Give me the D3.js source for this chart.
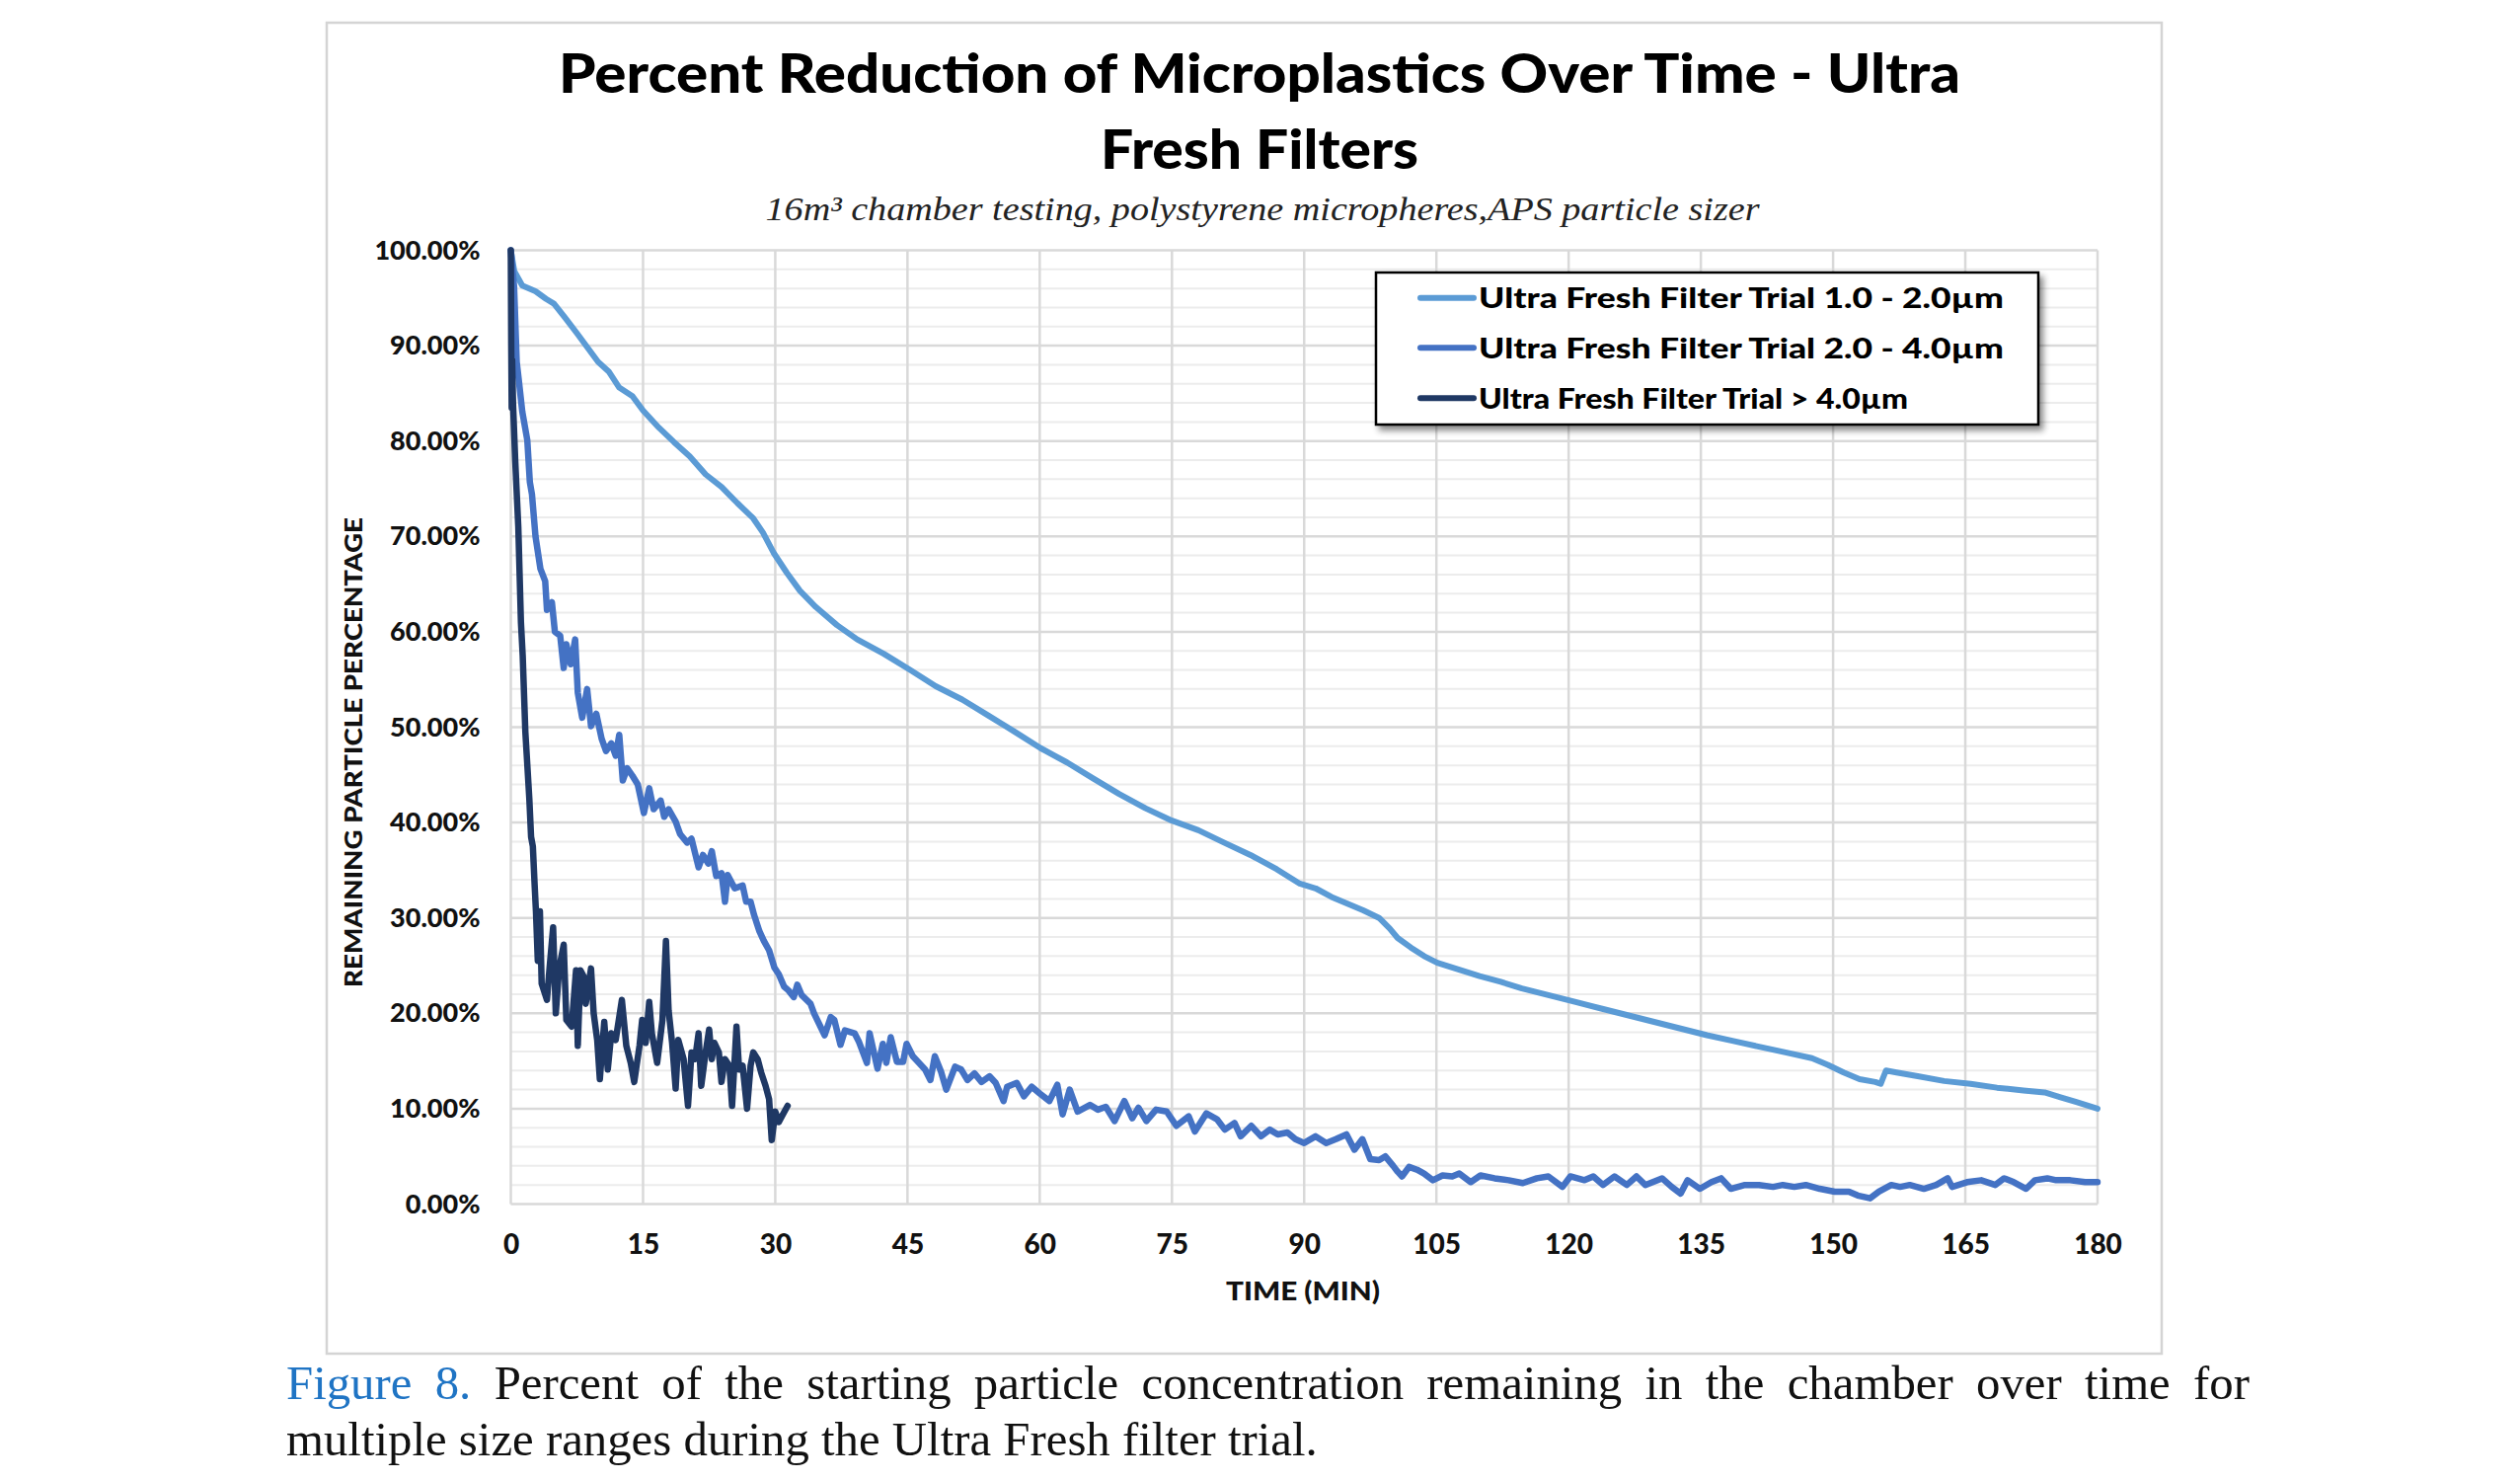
<!DOCTYPE html>
<html><head><meta charset="utf-8">
<script src="https://cdn.jsdelivr.net/npm/d3@7/dist/d3.min.js"></script>
<style>body{margin:0;background:#fff;}svg{display:block;}</style>
</head><body>
<svg id="chart" width="2553" height="1500"></svg>
<script>
// ---------- data ----------
const titleLines = ["Percent Reduction of Microplastics Over Time - Ultra", "Fresh Filters"];
const subtitle = "16m³ chamber testing, polystyrene micropheres,APS particle sizer";
const xTicks = [0, 15, 30, 45, 60, 75, 90, 105, 120, 135, 150, 165, 180];
const yTicks = [0, 10, 20, 30, 40, 50, 60, 70, 80, 90, 100];
const yMinorTicks = d3.range(0, 101, 2);
const xLabel = "TIME (MIN)";
const yLabel = "REMAINING PARTICLE PERCENTAGE";
const seriesNames = ["Ultra Fresh Filter Trial 1.0 - 2.0µm", "Ultra Fresh Filter Trial 2.0 - 4.0µm", "Ultra Fresh Filter Trial > 4.0µm"];
const seriesColors = ["#5b9bd5", "#4472c4", "#1f3864"];

// [time (min), remaining %]
const lightSeries = [[0,100],[0.4,97.8],[1.3,96.3],[2.8,95.7],[4.0,94.9],[4.9,94.4],[6.1,93.0],[7.5,91.3],[8.7,89.8],[9.9,88.3],[11.1,87.3],[12.3,85.6],[13.8,84.7],[15.0,83.2],[16.8,81.4],[18.5,79.9],[20.3,78.4],[22.1,76.5],[23.9,75.2],[25.7,73.5],[27.5,71.9],[28.6,70.4],[29.8,68.3],[31.3,66.2],[32.8,64.3],[34.6,62.6],[37.0,60.7],[39.3,59.2],[42.3,57.7],[45.3,56.0],[48.2,54.3],[51.2,52.9],[54.2,51.2],[57.2,49.5],[60.1,47.8],[63.1,46.3],[66.1,44.6],[69.0,43.0],[72.0,41.5],[75.0,40.2],[78.0,39.2],[80.9,37.9],[83.9,36.6],[86.9,35.1],[89.5,33.6],[91.3,33.1],[93.1,32.2],[94.9,31.5],[96.7,30.8],[98.5,30.0],[99.7,28.9],[100.6,27.9],[102.1,26.9],[103.6,26.0],[105.1,25.3],[107.5,24.6],[109.9,23.9],[112.3,23.3],[114.7,22.6],[117.7,21.9],[120.7,21.2],[123.7,20.5],[126.7,19.8],[129.7,19.1],[132.7,18.4],[135.7,17.7],[138.7,17.1],[141.6,16.5],[144.6,15.9],[147.6,15.3],[149.4,14.6],[151.2,13.8],[153.0,13.1],[154.8,12.8],[155.4,12.6],[156.0,14.0],[157.2,13.8],[159.6,13.4],[162.6,12.9],[165.6,12.6],[168.6,12.2],[171.6,11.9],[174.0,11.7],[175.8,11.2],[177.6,10.7],[180,10.0]];

const mediumSeries = [[0,100],[0.37,96.2],[0.67,88.3],[0.93,86.2],[1.3,83.1],[1.87,80.1],[2.16,75.7],[2.4,74.4],[2.8,70],[3.36,66.6],[3.9,65.3],[4.1,62.3],[4.66,63.1],[5.0,60],[5.6,59.6],[6.0,56.2],[6.3,58.7],[6.8,56.6],[7.3,59.2],[7.6,53.6],[8.1,51],[8.66,54],[9.1,50.1],[9.7,51.4],[10.3,48.8],[10.8,47.5],[11.4,48.3],[11.9,47],[12.3,49.2],[12.7,44.4],[13.2,45.7],[13.8,44.9],[14.4,44],[15.1,41],[15.7,43.6],[16.2,41.4],[17.0,42.3],[17.4,40.6],[17.9,41.4],[18.7,40.1],[19.2,38.8],[20,37.9],[20.5,38.3],[21.3,35.3],[21.8,36.6],[22.4,35.7],[22.8,37],[23.3,34.4],[23.9,34.7],[24.3,31.7],[24.6,34.5],[25.4,33.1],[26.3,33.4],[26.7,31.7],[27.2,31.7],[27.6,30.3],[28.2,28.6],[28.7,27.6],[29.3,26.6],[29.9,24.8],[30.4,24.1],[31,22.8],[31.5,22.4],[32.1,21.7],[32.5,23.0],[33,21.9],[34,21],[34.4,20],[35.6,17.7],[36.3,19.6],[36.7,19.3],[37.4,16.7],[37.9,18.2],[39,17.9],[39.5,17],[40.4,14.8],[40.7,17.9],[41.6,14.2],[42.2,16.8],[42.6,14.8],[43.1,17.5],[43.8,14.9],[44.5,14.9],[44.9,16.8],[45.6,15.5],[46.3,14.8],[47,14.1],[47.6,13],[48.1,15.5],[48.8,13.9],[49.4,12],[50.4,14.4],[51.1,14.1],[51.8,13],[52.6,13.7],[53.4,12.8],[54.3,13.4],[55,12.7],[55.9,10.8],[56.3,12.3],[57.4,12.7],[58.2,11.3],[59.1,12.3],[60,11.6],[61.1,10.8],[62,12.5],[62.6,9.4],[63.4,12],[64.3,9.7],[65.7,10.4],[66.6,9.9],[67.5,10.2],[68.5,8.7],[69.6,10.8],[70.5,9],[71.2,10.1],[72.1,8.7],[73.2,9.9],[74.4,9.7],[75.5,8.2],[76.9,9.2],[77.6,7.6],[78.9,9.5],[80.1,8.9],[81,7.8],[82.1,8.5],[82.8,7.1],[84,8.2],[85.1,7.1],[86.1,7.8],[87,7.3],[88.1,7.5],[89,6.8],[90,6.4],[91.3,7.1],[92.5,6.4],[93.6,6.8],[94.8,7.3],[95.7,5.7],[96.6,6.8],[97.5,4.7],[98.5,4.6],[99.2,5],[100.1,4],[100.6,3.4],[101.1,2.9],[101.9,3.9],[102.8,3.6],[103.6,3.2],[104.6,2.5],[105.7,3],[106.8,2.9],[107.6,3.2],[108.9,2.3],[110,3],[111.6,2.7],[113.2,2.5],[114.8,2.2],[116.4,2.7],[117.7,2.9],[119.3,1.8],[120.2,2.9],[121.8,2.5],[122.8,2.9],[123.9,2],[125.2,2.9],[126.6,2],[127.7,2.9],[128.7,2],[130.6,2.7],[131.7,1.8],[132.7,1.1],[133.5,2.5],[134.9,1.6],[136.2,2.3],[137.3,2.7],[138.4,1.6],[140,2],[141.6,2],[143.2,1.8],[144.3,2],[145.6,1.8],[146.9,2],[148.5,1.6],[150.2,1.3],[151.8,1.3],[152.8,0.9],[154.2,0.6],[155.2,1.3],[156.6,2],[157.6,1.8],[158.7,2],[160.3,1.6],[161.7,2],[163,2.7],[163.5,1.8],[165.2,2.3],[166.8,2.5],[168.4,2],[169.4,2.7],[170.5,2.3],[171.9,1.6],[172.9,2.5],[174.3,2.7],[175.3,2.5],[176.9,2.5],[178.6,2.3],[180,2.3]];

const darkSeries = [[0,100],[0.05,90],[0.1,83.5],[0.15,88.5],[0.25,84],[0.5,78],[0.85,71],[1.15,61],[1.35,57.5],[1.65,49.5],[2.1,42.5],[2.3,38.5],[2.5,37.5],[2.7,33.5],[2.85,30.7],[3.06,25.5],[3.3,30.7],[3.5,23.1],[4.1,21.4],[4.4,24.8],[4.8,29],[5.1,20],[5.5,24.8],[6.0,27.2],[6.3,19.3],[6.9,18.6],[7.4,24.5],[7.6,16.6],[7.9,24.5],[8.3,23.8],[8.5,21],[9.1,24.7],[9.4,20],[9.8,17.2],[10.1,13.1],[10.6,19.1],[11.0,14.1],[11.4,17.9],[11.9,17.2],[12.6,21.4],[13.1,16.6],[13.6,14.8],[14.0,12.8],[14.6,16.6],[14.9,19.3],[15.3,16.9],[15.7,21.2],[16.0,17.9],[16.6,14.8],[17.2,19.3],[17.6,27.6],[17.9,20.3],[18.3,16.9],[18.7,12.1],[19.0,17.2],[19.6,15.2],[20.1,10.3],[20.5,15.9],[20.9,15.2],[21.3,17.9],[21.6,12.4],[22.1,15.9],[22.5,18.3],[22.8,15.2],[23.1,16.9],[23.6,15.9],[23.9,12.8],[24.3,15.2],[24.8,14.5],[25.1,10.3],[25.6,18.6],[25.9,14.1],[26.3,14.5],[26.8,10],[27.2,14.5],[27.5,15.9],[28.0,15.2],[28.4,13.8],[28.9,12.4],[29.3,11],[29.6,6.7],[30.0,9.7],[30.4,8.6],[30.8,9.3],[31.4,10.3]];

const captionLabel = "Figure 8.";
const captionLine1 = "Percent of the starting particle concentration remaining in the chamber over time for";
const captionLine2 = "multiple size ranges during the Ultra Fresh filter trial.";

// ---------- layout ----------
const svg = d3.select("#chart");
const plot = {left: 517.5, right: 2125, top: 253.5, bottom: 1219.5};
const x = d3.scaleLinear().domain([0, 180]).range([plot.left, plot.right]);
const y = d3.scaleLinear().domain([0, 100]).range([plot.bottom, plot.top]);
const sansBold = "Lato, 'Open Sans', sans-serif";

// chart frame
svg.append("rect").attr("x", 331).attr("y", 23).attr("width", 1859).attr("height", 1348)
  .attr("fill", "#fff").attr("stroke", "#d4d4d4").attr("stroke-width", 2.5);

// title
svg.selectAll("text.title").data(titleLines).join("text").attr("class", "title")
  .attr("x", 1276).attr("y", (d, i) => i === 0 ? 94 : 171)
  .attr("text-anchor", "middle").attr("font-family", sansBold).attr("font-weight", 900)
  .attr("font-size", 56).attr("fill", "#000")
  .attr("textLength", (d, i) => i === 0 ? 1420 : 322).attr("lengthAdjust", "spacingAndGlyphs")
  .text(d => d);

svg.append("text").attr("x", 1279).attr("y", 223).attr("text-anchor", "middle")
  .attr("font-family", "'Liberation Serif', 'DejaVu Serif', serif").attr("font-style", "italic")
  .attr("font-size", 34).attr("fill", "#222").attr("textLength", 1007).attr("lengthAdjust", "spacingAndGlyphs")
  .text(subtitle);

// gridlines
const grid = svg.append("g");
grid.selectAll("line.minor").data(yMinorTicks.filter(v => v % 10 !== 0)).join("line")
  .attr("x1", plot.left).attr("x2", plot.right).attr("y1", d => y(d)).attr("y2", d => y(d))
  .attr("stroke", "#ececec").attr("stroke-width", 2);
grid.selectAll("line.major").data(yTicks).join("line")
  .attr("x1", plot.left).attr("x2", plot.right).attr("y1", d => y(d)).attr("y2", d => y(d))
  .attr("stroke", "#d9d9d9").attr("stroke-width", 2.5);
grid.selectAll("line.vert").data(xTicks).join("line")
  .attr("x1", d => x(d)).attr("x2", d => x(d)).attr("y1", plot.top).attr("y2", plot.bottom)
  .attr("stroke", "#d9d9d9").attr("stroke-width", 2.5);

// axes
const yAxis = svg.append("g").attr("transform", `translate(${plot.left},0)`)
  .call(d3.axisLeft(y).tickValues(yTicks).tickSize(0).tickPadding(31).tickFormat(d => d.toFixed(2) + "%"));
yAxis.select(".domain").remove();
yAxis.selectAll("text").attr("font-family", sansBold).attr("font-weight", 900).attr("font-size", 27).attr("fill", "#111");

const xAxis = svg.append("g").attr("transform", `translate(0,${plot.bottom})`)
  .call(d3.axisBottom(x).tickValues(xTicks).tickSize(0).tickPadding(31));
xAxis.select(".domain").remove();
xAxis.selectAll("text").attr("font-family", sansBold).attr("font-weight", 900).attr("font-size", 28).attr("fill", "#111");

svg.append("text").attr("x", 1320).attr("y", 1317).attr("text-anchor", "middle")
  .attr("font-family", sansBold).attr("font-weight", 900).attr("font-size", 27).attr("fill", "#111")
  .attr("textLength", 156).attr("lengthAdjust", "spacingAndGlyphs").text(xLabel);

svg.append("text").attr("transform", "translate(367,762) rotate(-90)").attr("text-anchor", "middle")
  .attr("font-family", sansBold).attr("font-weight", 900).attr("font-size", 25).attr("fill", "#111")
  .attr("textLength", 476).attr("lengthAdjust", "spacingAndGlyphs").text(yLabel);

// series
const line = d3.line().x(d => x(d[0])).y(d => y(d[1]));
const allSeries = [lightSeries, mediumSeries, darkSeries];
const lineWidths = [6, 6.5, 6.5];
svg.append("g").selectAll("path").data(allSeries).join("path")
  .attr("d", line).attr("fill", "none")
  .attr("stroke", (d, i) => seriesColors[i]).attr("stroke-width", (d, i) => lineWidths[i])
  .attr("stroke-linejoin", "round").attr("stroke-linecap", "round");

// legend
const defs = svg.append("defs");
const f = defs.append("filter").attr("id", "shadow").attr("x", "-5%").attr("y", "-10%").attr("width", "115%").attr("height", "130%");
f.append("feDropShadow").attr("dx", 4).attr("dy", 5).attr("stdDeviation", 3).attr("flood-color", "#000").attr("flood-opacity", 0.45);
const leg = svg.append("g");
leg.append("rect").attr("x", 1394).attr("y", 276).attr("width", 671).attr("height", 154)
  .attr("fill", "#fff").attr("stroke", "#000").attr("stroke-width", 2.5).attr("filter", "url(#shadow)");
const legRows = [301.7, 352.3, 403.3];
const legTextLen = [532, 532, 435];
const li = leg.selectAll("g.item").data(seriesNames).join("g").attr("transform", (d, i) => `translate(0,${legRows[i]})`);
li.append("line").attr("x1", 1439).attr("x2", 1493).attr("y1", 0).attr("y2", 0)
  .attr("stroke", (d, i) => seriesColors[i]).attr("stroke-width", 6).attr("stroke-linecap", "round");
li.append("text").attr("x", 1498).attr("y", 0).attr("dy", "0.36em")
  .attr("font-family", sansBold).attr("font-weight", 900).attr("font-size", 29).attr("fill", "#000")
  .attr("textLength", (d, i) => legTextLen[i]).attr("lengthAdjust", "spacingAndGlyphs").text(d => d);

// caption: size fitted to line 2, line 1 justified with word spacing
const capFont = "'Liberation Serif', 'DejaVu Serif', serif";
const cap2 = svg.append("text").attr("x", 290).attr("y", 1474).attr("font-family", capFont).attr("font-size", 42).attr("fill", "#111")
  .text(captionLine2);
const capSize = 42 * 1045 / cap2.node().getComputedTextLength();
cap2.attr("font-size", capSize);
const cap1 = svg.append("text").attr("x", 290).attr("y", 1417).attr("font-family", capFont).attr("font-size", capSize).attr("fill", "#111");
cap1.append("tspan").attr("fill", "#1f74c4").text(captionLabel + " ");
cap1.append("tspan").text(captionLine1);
const natural = cap1.node().getComputedTextLength();
const spaces = (captionLabel + " " + captionLine1).split(" ").length - 1;
cap1.attr("word-spacing", Math.max(0, (2279 - 290 - natural) / spaces));
</script>
</body></html>
